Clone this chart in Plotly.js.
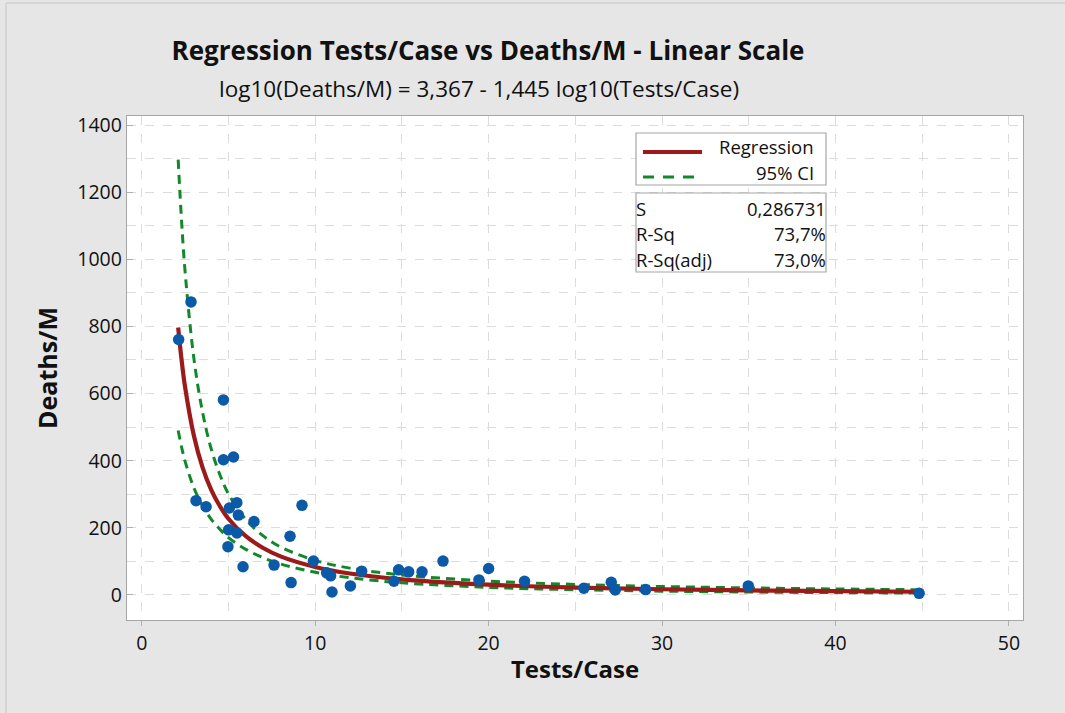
<!DOCTYPE html>
<html>
<head>
<meta charset="utf-8">
<script src="https://cdn.plot.ly/plotly-3.0.1.min.js"></script>
<style>
  html, body { margin: 0; padding: 0; background: #e6e6e6; }
  #chart { width: 1065px; height: 713px; }
</style>
</head>
<body>
<div id="chart"></div>
<script>
// Observed data points (Tests/Case, Deaths/M)
const testsPerCase = [2.13, 2.84, 4.71, 4.71, 5.29, 3.13, 3.71, 5.05, 5.48, 5.57, 6.47, 5.01, 5.49, 4.97, 5.84, 7.63, 8.55, 9.24, 8.61, 9.90, 10.66, 10.89, 10.97, 12.03, 12.68, 14.54, 14.81, 15.39, 16.16, 17.37, 19.44, 20.00, 22.07, 25.49, 27.07, 27.30, 29.05, 34.97, 44.82];
const deathsPerM   = [761, 873, 581, 403, 411, 281, 263, 259, 275, 238, 219, 194, 185, 144, 84, 89, 175, 267, 37, 101, 66, 57, 9, 27, 71, 41, 75, 69, 69, 101, 45, 79, 41, 20, 38, 15, 16, 27, 5];

// Fitted regression curve and 95% CI band
const fitX     = [2.1, 2.3, 2.5, 3, 3.5, 4, 4.5, 5, 6, 7, 8, 10, 12, 15, 20, 25, 30, 35, 40, 44.8];
const fitY     = [797, 699, 619, 476, 381, 314, 265, 227, 175, 140, 115, 83.6, 64, 46.5, 30.7, 22.2, 17.1, 13.7, 11.3, 9.6];
const ciUpper  = [1297, 1111, 963, 707, 546, 436, 359, 301, 225, 176, 143, 103, 80, 59.6, 41.5, 31.5, 25.3, 21.1, 18.0, 15.7];
const ciLower  = [490, 440, 398, 320, 266, 226, 196, 171, 136, 111, 92.5, 67.7, 51.3, 36.3, 22.7, 15.7, 11.5, 8.9, 7.1, 5.85];

const titleText = "Regression Tests/Case vs Deaths/M - Linear Scale";
const subtitleText = "log10(Deaths/M) = 3,367 - 1,445 log10(Tests/Case)";
const legendLabels = ["Regression", "95% CI"];
const statNames = ["S", "R-Sq", "R-Sq(adj)"];
const statValues = ["0,286731", "73,7%", "73,0%"];
const xTickVals = [0, 10, 20, 30, 40, 50];
const yTickVals = [0, 200, 400, 600, 800, 1000, 1200, 1400];

const FONT = "'Open Sans', 'Noto Sans', sans-serif";
const TXT = "#111111";
const RED = "#9b1b1b";
const GREEN = "#11882a";
const BLUE = "#0b5aa8";
const BOXC = "#a6a6a6";

const traces = [
  { x: fitX, y: ciUpper, type: "scatter", mode: "lines", line: { color: GREEN, width: 3, dash: "9px,6px", shape: "spline" }, showlegend: false, hoverinfo: "skip" },
  { x: fitX, y: ciLower, type: "scatter", mode: "lines", line: { color: GREEN, width: 3, dash: "9px,6px", shape: "spline" }, showlegend: false, hoverinfo: "skip" },
  { x: fitX, y: fitY, type: "scatter", mode: "lines", line: { color: RED, width: 4.2, shape: "spline" }, showlegend: false },
  { x: testsPerCase, y: deathsPerM, type: "scatter", mode: "markers", marker: { color: BLUE, size: 11.5 }, showlegend: false }
];

// Pixel -> paper helpers for decorations (plot area 127..1023 x 116..620)
const PL = 127, PR = 1023, PT = 116, PB = 620;
const px = v => (v - PL) / (PR - PL);
const py = v => (PB - v) / (PB - PT);

const shapes = [
  { type: "line", xref: "paper", yref: "paper", x0: px(6), x1: px(1065), y0: py(3), y1: py(3), line: { color: "#cfcfcf", width: 1.5 } },
  { type: "line", xref: "paper", yref: "paper", x0: px(6), x1: px(6), y0: py(3), y1: py(713), line: { color: "#cfcfcf", width: 1.5 } },
  { type: "rect", xref: "paper", yref: "paper", x0: px(636), x1: px(826), y0: py(185), y1: py(133), line: { color: BOXC, width: 1.2 }, fillcolor: "white" },
  { type: "rect", xref: "paper", yref: "paper", x0: px(636), x1: px(826), y0: py(272), y1: py(193), line: { color: BOXC, width: 1.2 }, fillcolor: "white" },
  { type: "line", xref: "paper", yref: "paper", x0: px(643), x1: px(702), y0: py(152), y1: py(152), line: { color: RED, width: 4 } },
  { type: "line", xref: "paper", yref: "paper", x0: px(643), x1: px(702), y0: py(177), y1: py(177), line: { color: GREEN, width: 3, dash: "11px,9px" } }
];

const annotations = [
  { text: subtitleText, xref: "paper", yref: "paper", x: px(479), y: py(89), xanchor: "center", yanchor: "middle", showarrow: false, font: { family: FONT, size: 22.5, color: TXT } },
  { text: legendLabels[0], xref: "paper", yref: "paper", x: px(815), y: py(146.5), xanchor: "right", yanchor: "middle", showarrow: false, borderpad: 0, font: { family: FONT, size: 18.5, color: TXT } },
  { text: legendLabels[1], xref: "paper", yref: "paper", x: px(815), y: py(172.5), xanchor: "right", yanchor: "middle", showarrow: false, borderpad: 0, font: { family: FONT, size: 18.5, color: TXT } }
];
const statY = [208, 234, 259.5];
statNames.forEach((n, i) => {
  annotations.push({ text: n, xref: "paper", yref: "paper", x: px(635), y: py(statY[i]), xanchor: "left", yanchor: "middle", showarrow: false, borderpad: 0, font: { family: FONT, size: 18.5, color: TXT } });
  annotations.push({ text: statValues[i], xref: "paper", yref: "paper", x: px(827), y: py(statY[i]), xanchor: "right", yanchor: "middle", showarrow: false, borderpad: 0, font: { family: FONT, size: 18.5, color: TXT } });
});

const layout = {
  width: 1065, height: 713,
  paper_bgcolor: "#e6e6e6",
  plot_bgcolor: "#ffffff",
  margin: { l: PL, r: 1065 - PR, t: PT, b: 713 - PB, pad: 0 },
  font: { family: FONT, color: TXT },
  title: { text: "<b>" + titleText + "</b>", font: { family: FONT, size: 26, color: TXT }, xref: "container", yref: "container", x: 488 / 1065, y: 1 - 51 / 713, xanchor: "center", yanchor: "middle" },
  xaxis: {
    range: [-0.85, 50.81], tickvals: xTickVals, ticktext: xTickVals.map(String),
    ticks: "outside", ticklen: 5, tickcolor: "#b0b0b0",
    showline: true, linecolor: BOXC, linewidth: 1.2, mirror: true,
    showgrid: true, gridcolor: "#dcdcdc", griddash: "dash", gridwidth: 1,
    minor: { dtick: 5, tick0: 0, showgrid: true, gridcolor: "#dcdcdc", griddash: "dash", ticks: "" },
    zeroline: false, tickfont: { family: FONT, size: 19.5, color: TXT },
    title: { text: "<b>Tests/Case</b>", font: { family: FONT, size: 24, color: TXT }, standoff: 6 }
  },
  yaxis: {
    range: [-74.5, 1426.8], tickvals: yTickVals, ticktext: yTickVals.map(String),
    ticks: "inside", ticklen: 6, tickcolor: "#b0b0b0",
    showline: true, linecolor: BOXC, linewidth: 1.2, mirror: true,
    showgrid: true, gridcolor: "#dcdcdc", griddash: "dash", gridwidth: 1,
    minor: { dtick: 100, tick0: 0, showgrid: true, gridcolor: "#dcdcdc", griddash: "dash", ticks: "" },
    zeroline: false, tickfont: { family: FONT, size: 19.5, color: TXT },
    title: { text: "<b>Deaths/M</b>", font: { family: FONT, size: 25, color: TXT }, standoff: 12 }
  },
  shapes: shapes,
  annotations: annotations,
  showlegend: false
};

Plotly.newPlot("chart", traces, layout, { displayModeBar: false, staticPlot: true });
</script>
</body>
</html>
